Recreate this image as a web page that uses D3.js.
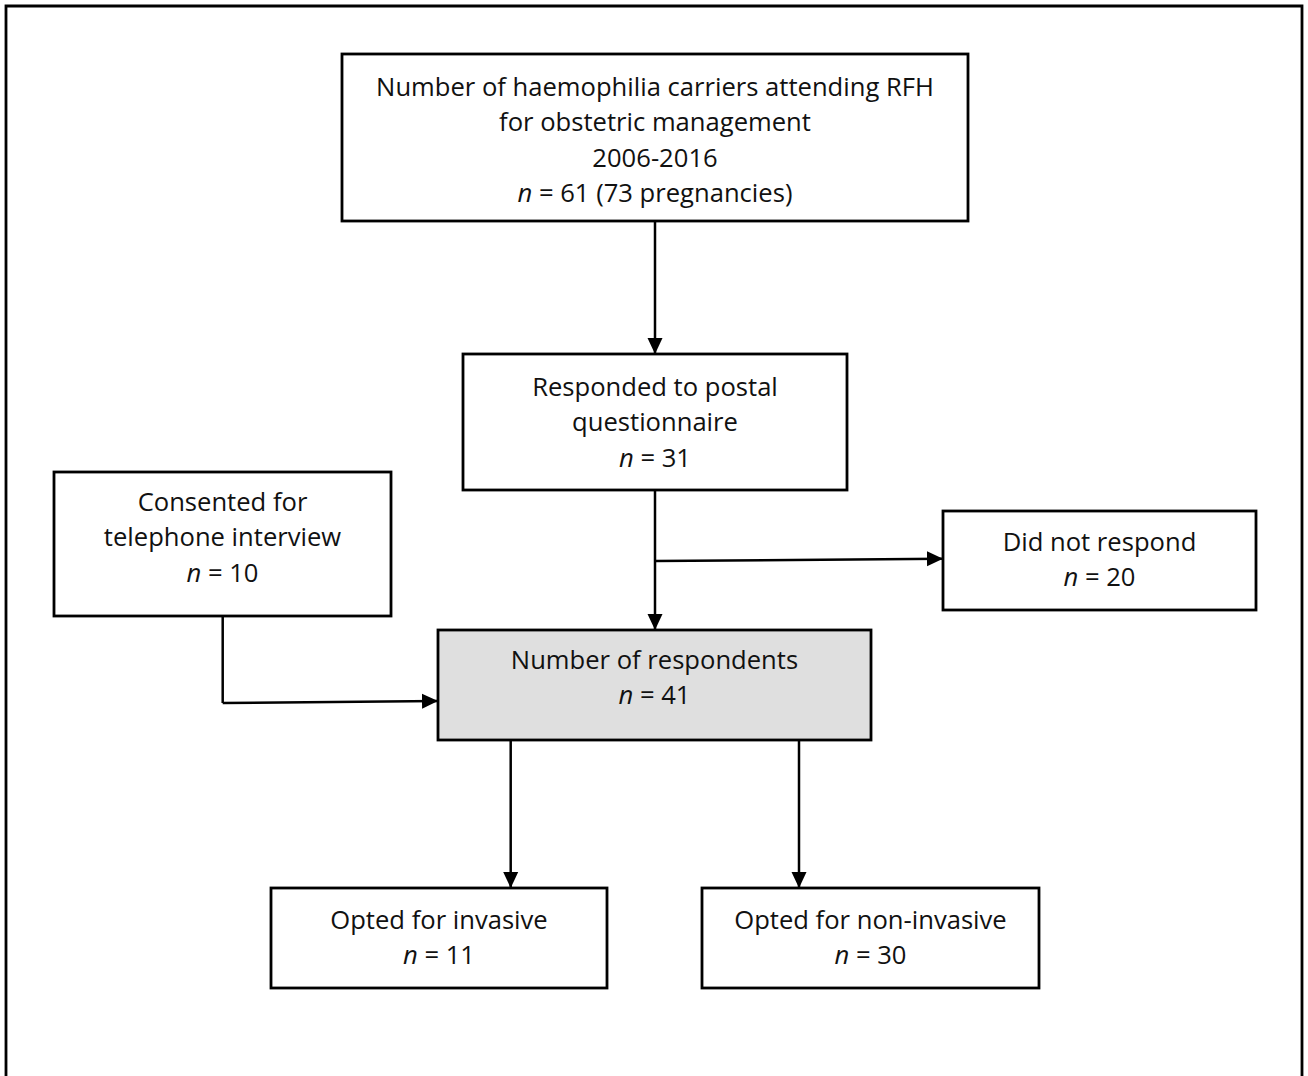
<!DOCTYPE html>
<html>
<head>
    <title>Flow diagram</title>
    <script src="https://d3js.org/d3.v7.min.js"></script>
    <style>
        body { margin: 0; background: #fff; }
        .box rect { stroke: #000; stroke-width: 2.8; }
        .box text { font-family: 'Open Sans', Lato, sans-serif; fill: #111; text-anchor: middle; }
        .links path { stroke: #000; stroke-width: 2.5; fill: none; }
    </style>
</head>
<body>
    <script>
        // data
        var boxIds = ["total", "postal", "phone", "noResp", "resp", "invasive", "nonInvasive"];
        var boxLabels = [
            ["Number of haemophilia carriers attending RFH", "for obstetric management", "2006-2016"],
            ["Responded to postal", "questionnaire"],
            ["Consented for", "telephone interview"],
            ["Did not respond"],
            ["Number of respondents"],
            ["Opted for invasive"],
            ["Opted for non-invasive"]
        ];
        var boxCounts = [61, 31, 10, 20, 41, 11, 30];
        var boxExtra = [" (73 pregnancies)", "", "", "", "", "", ""];
        var highlighted = ["resp"];

        // layout (x0, y0, x1, y1, first text line centre)
        var layout = {
            total:       [342, 54, 968, 221, 87],
            postal:      [463, 354, 847, 490, 387],
            phone:       [54, 472, 391, 616, 502],
            noResp:      [943, 511, 1256, 610, 542],
            resp:        [438, 630, 871, 740, 660],
            invasive:    [271, 888, 607, 988, 920],
            nonInvasive: [702, 888, 1039, 988, 920]
        };
        var lineGap = 35.5;
        var refWidth = 558; // width of the longest line in the source

        var links = [
            { points: [[655, 221], [655, 354]], arrow: true },
            { points: [[655, 490], [655, 630]], arrow: true },
            { points: [[655, 561], [943, 558.7]], arrow: true },
            { points: [[222.7, 616], [222.7, 703]], arrow: false },
            { points: [[222.7, 703], [438, 701]], arrow: true },
            { points: [[510.7, 740], [510.7, 888]], arrow: true },
            { points: [[799, 740], [799, 888]], arrow: true }
        ];

        var W = 1308, H = 1076;
        var svg = d3.select("body").append("svg")
            .attr("width", W)
            .attr("height", H);

        svg.append("defs").append("marker")
            .attr("id", "head")
            .attr("viewBox", "0 0 16 16")
            .attr("refX", 16).attr("refY", 8)
            .attr("markerWidth", 16).attr("markerHeight", 16)
            .attr("markerUnits", "userSpaceOnUse")
            .attr("orient", "auto")
            .append("path")
            .attr("d", "M0,0.5 L16,8 L0,15.5 Z")
            .attr("fill", "#000");

        // outer frame (bottom edge runs past the page)
        svg.append("path")
            .attr("d", "M6,1090 V6 H1302 V1090")
            .attr("fill", "none")
            .attr("stroke", "#000")
            .attr("stroke-width", 2.8);

        var line = d3.line();

        svg.append("g").attr("class", "links")
            .selectAll("path")
            .data(links)
            .enter().append("path")
            .attr("d", function(d) { return line(d.points); })
            .attr("marker-end", function(d) { return d.arrow ? "url(#head)" : null; });

        // pick a font size so the longest line matches the source width
        var probe = svg.append("text")
            .style("font-family", "'Open Sans', Lato, sans-serif")
            .style("font-size", "20px")
            .text(boxLabels[0][0]);
        var fontSize = 20 * refWidth / probe.node().getComputedTextLength();
        probe.remove();

        var boxes = boxIds.map(function(id, i) {
            return { id: id, lines: boxLabels[i], n: boxCounts[i], extra: boxExtra[i], l: layout[id] };
        });

        var node = svg.append("g")
            .selectAll("g")
            .data(boxes)
            .enter().append("g")
            .attr("class", "box");

        node.append("rect")
            .attr("x", function(d) { return d.l[0]; })
            .attr("y", function(d) { return d.l[1]; })
            .attr("width", function(d) { return d.l[2] - d.l[0]; })
            .attr("height", function(d) { return d.l[3] - d.l[1]; })
            .attr("fill", function(d) { return highlighted.indexOf(d.id) >= 0 ? "#dfdfdf" : "#fff"; });

        node.each(function(d) {
            var g = d3.select(this);
            var cx = (d.l[0] + d.l[2]) / 2;
            d.lines.forEach(function(t, k) {
                g.append("text")
                    .attr("x", cx)
                    .attr("y", d.l[4] + k * lineGap + 8.5)
                    .style("font-size", fontSize + "px")
                    .text(t);
            });
            var nt = g.append("text")
                .attr("x", cx)
                .attr("y", d.l[4] + d.lines.length * lineGap + 8.5)
                .style("font-size", fontSize + "px");
            nt.append("tspan").style("font-style", "italic").text("n");
            nt.append("tspan").text(" = " + d.n + d.extra);
        });
    </script>
</body>
</html>
